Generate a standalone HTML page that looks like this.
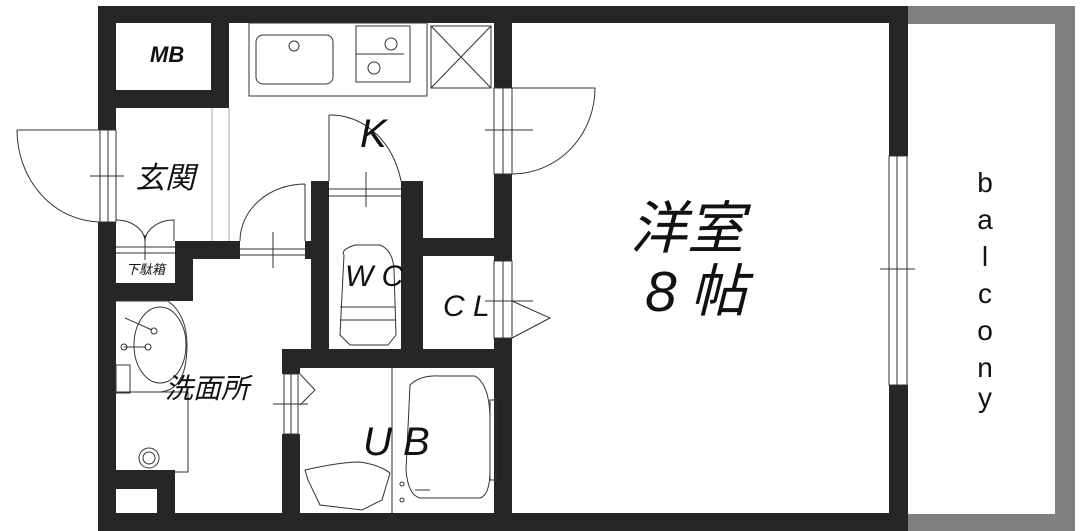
<!DOCTYPE html>
<html><head><meta charset="utf-8"><style>
html,body{margin:0;padding:0;background:#fff;}
svg{display:block}
.t{font-family:"Liberation Sans","Noto Sans CJK JP",sans-serif;font-style:italic;fill:#111}
</style></head><body>
<svg width="1086" height="531" viewBox="0 0 1086 531" xmlns="http://www.w3.org/2000/svg">
<rect width="1086" height="531" fill="#fff"/>
<rect x="907" y="6" width="168" height="525" fill="#808080"/>
<rect x="907" y="24" width="148" height="490" fill="#fff"/>
<g fill="#262626">
<rect x="98" y="6" width="810" height="17"/>
<rect x="98" y="513" width="810" height="18"/>
<rect x="98" y="6" width="18" height="124"/>
<rect x="98" y="222" width="18" height="309"/>
<rect x="889" y="6" width="19" height="150"/>
<rect x="889" y="385" width="19" height="146"/>
<rect x="211" y="23" width="18" height="85"/>
<rect x="116" y="90" width="113" height="18"/>
<rect x="494" y="23" width="18" height="65"/>
<rect x="494" y="174" width="18" height="87"/>
<rect x="494" y="338" width="18" height="175"/>
<rect x="423" y="238" width="71" height="18"/>
<rect x="311" y="181" width="18" height="168"/>
<rect x="401" y="181" width="22" height="168"/>
<rect x="282" y="349" width="212" height="19"/>
<rect x="282" y="349" width="18" height="25"/>
<rect x="282" y="434" width="18" height="79"/>
<rect x="175" y="241" width="65" height="18"/>
<rect x="305" y="241" width="10" height="18"/>
<rect x="175" y="241" width="18" height="60"/>
<rect x="116" y="283" width="77" height="18"/>
<rect x="116" y="470" width="59" height="43"/>
</g>
<rect x="116" y="489" width="41" height="24" fill="#fff"/>
<g fill="none" stroke="#333" stroke-width="1">
<rect x="100" y="130" width="16" height="92"/>
<line x1="108" y1="130" x2="108" y2="222"/>
<path d="M17,130 H100 M17,130 A84,92 0 0 0 100,222"/>
<line x1="90" y1="176" x2="124" y2="176"/>
<line x1="212" y1="108" x2="212" y2="241" stroke="#aaa"/>
<line x1="229" y1="108" x2="229" y2="241" stroke="#aaa"/>
<path d="M116,220 A29,22 0 0 1 145,242 A29,22 0 0 1 174,220 V241"/>
<line x1="116" y1="247" x2="175" y2="247"/><line x1="116" y1="253" x2="175" y2="253"/>
<line x1="145" y1="235" x2="145" y2="260"/>
<path d="M305,184 V241 M240,241 A65,57 0 0 1 305,184"/>
<line x1="240" y1="249" x2="305" y2="249"/><line x1="240" y1="255" x2="305" y2="255"/>
<line x1="273" y1="232" x2="273" y2="268"/>
<rect x="249" y="23" width="178" height="73"/>
<rect x="256" y="35" width="77" height="49" rx="7"/>
<circle cx="294" cy="46" r="5"/>
<rect x="356" y="26" width="54" height="56"/>
<line x1="356" y1="54" x2="404" y2="54"/>
<circle cx="391" cy="44" r="6"/><circle cx="374" cy="68" r="6"/>
<rect x="431" y="26" width="60" height="62"/>
<path d="M431,26 L491,88 M491,26 L431,88"/>
<path d="M329,115 V181 M329,115 A72,84 0 0 1 401,181"/>
<line x1="329" y1="189" x2="401" y2="189"/><line x1="329" y1="196" x2="401" y2="196"/>
<line x1="366" y1="172" x2="366" y2="207"/>
<rect x="494" y="88" width="18" height="86"/>
<line x1="503" y1="88" x2="503" y2="174"/>
<path d="M512,88 H595 A83,86 0 0 1 512,174"/>
<line x1="485" y1="130" x2="533" y2="130"/>
<path d="M344,255 Q340,250 355,245 H380 Q393,250 394,270 L396,335 L388,345 H350 L340,335 Z"/>
<line x1="340" y1="307" x2="395" y2="307"/><line x1="340" y1="320" x2="395" y2="320"/>
<rect x="494" y="261" width="18" height="77"/>
<line x1="503" y1="261" x2="503" y2="338"/>
<path d="M512,301 L550,318 L512,338"/>
<line x1="485" y1="301" x2="533" y2="301"/>
<path d="M116,301 H168 Q187,315 187,345 Q187,390 160,392 H116"/>
<ellipse cx="160" cy="345" rx="26" ry="38"/>
<line x1="125" y1="318" x2="152" y2="330"/><circle cx="154" cy="331" r="3"/>
<line x1="124" y1="347" x2="146" y2="347"/><circle cx="124" cy="347" r="3"/><circle cx="148" cy="347" r="3"/>
<rect x="116" y="365" width="14" height="28"/>
<path d="M116,392 H188 V472 H175"/>
<circle cx="149" cy="458" r="10"/><circle cx="149" cy="458" r="6"/>
<rect x="284" y="374" width="14" height="60"/>
<line x1="291" y1="374" x2="291" y2="434"/>
<path d="M300,374 L315,390 L300,405"/>
<line x1="273" y1="404" x2="308" y2="404"/>
<line x1="392" y1="368" x2="392" y2="513"/>
<path d="M305,470 Q340,462 360,462 Q380,465 390,473 L382,500 L362,510 L320,505 L308,480 Z"/>
<path d="M410,385 Q420,375 440,376 H475 Q490,385 490,420 V470 Q490,495 480,498 H420 Q408,495 406,470 Z"/>
<rect x="490" y="400" width="6" height="80"/>
<line x1="415" y1="490" x2="430" y2="490"/>
<circle cx="402" cy="484" r="2"/><circle cx="402" cy="500" r="2"/>
<rect x="889" y="156" width="18" height="229"/>
<line x1="897" y1="156" x2="897" y2="385"/>
<line x1="880" y1="269" x2="915" y2="269"/>
</g>
<text class="t" x="150" y="62" font-size="22" font-weight="bold">MB</text>
<text class="t" x="360" y="147" font-size="40">K</text>
<text class="t" x="135" y="188" font-size="30">玄関</text>
<text class="t" x="126" y="274" font-size="13">下駄箱</text>
<text class="t" x="345" y="286" font-size="30">W C</text>
<text class="t" x="443" y="316" font-size="30">C L</text>
<text class="t" x="165" y="398" font-size="28">洗面所</text>
<text class="t" x="363" y="455" font-size="40">U B</text>
<text class="t" x="630" y="248" font-size="57">洋室</text>
<text class="t" x="645" y="311" font-size="57">8</text>
<text class="t" x="690" y="311" font-size="57">帖</text>
<g font-family="Liberation Sans,sans-serif" font-size="28" fill="#111" text-anchor="middle">
<text x="985" y="192">b</text><text x="985" y="229">a</text><text x="985" y="266">l</text>
<text x="985" y="303">c</text><text x="985" y="340">o</text><text x="985" y="377">n</text><text x="985" y="407">y</text>
</g>
</svg>
</body></html>
